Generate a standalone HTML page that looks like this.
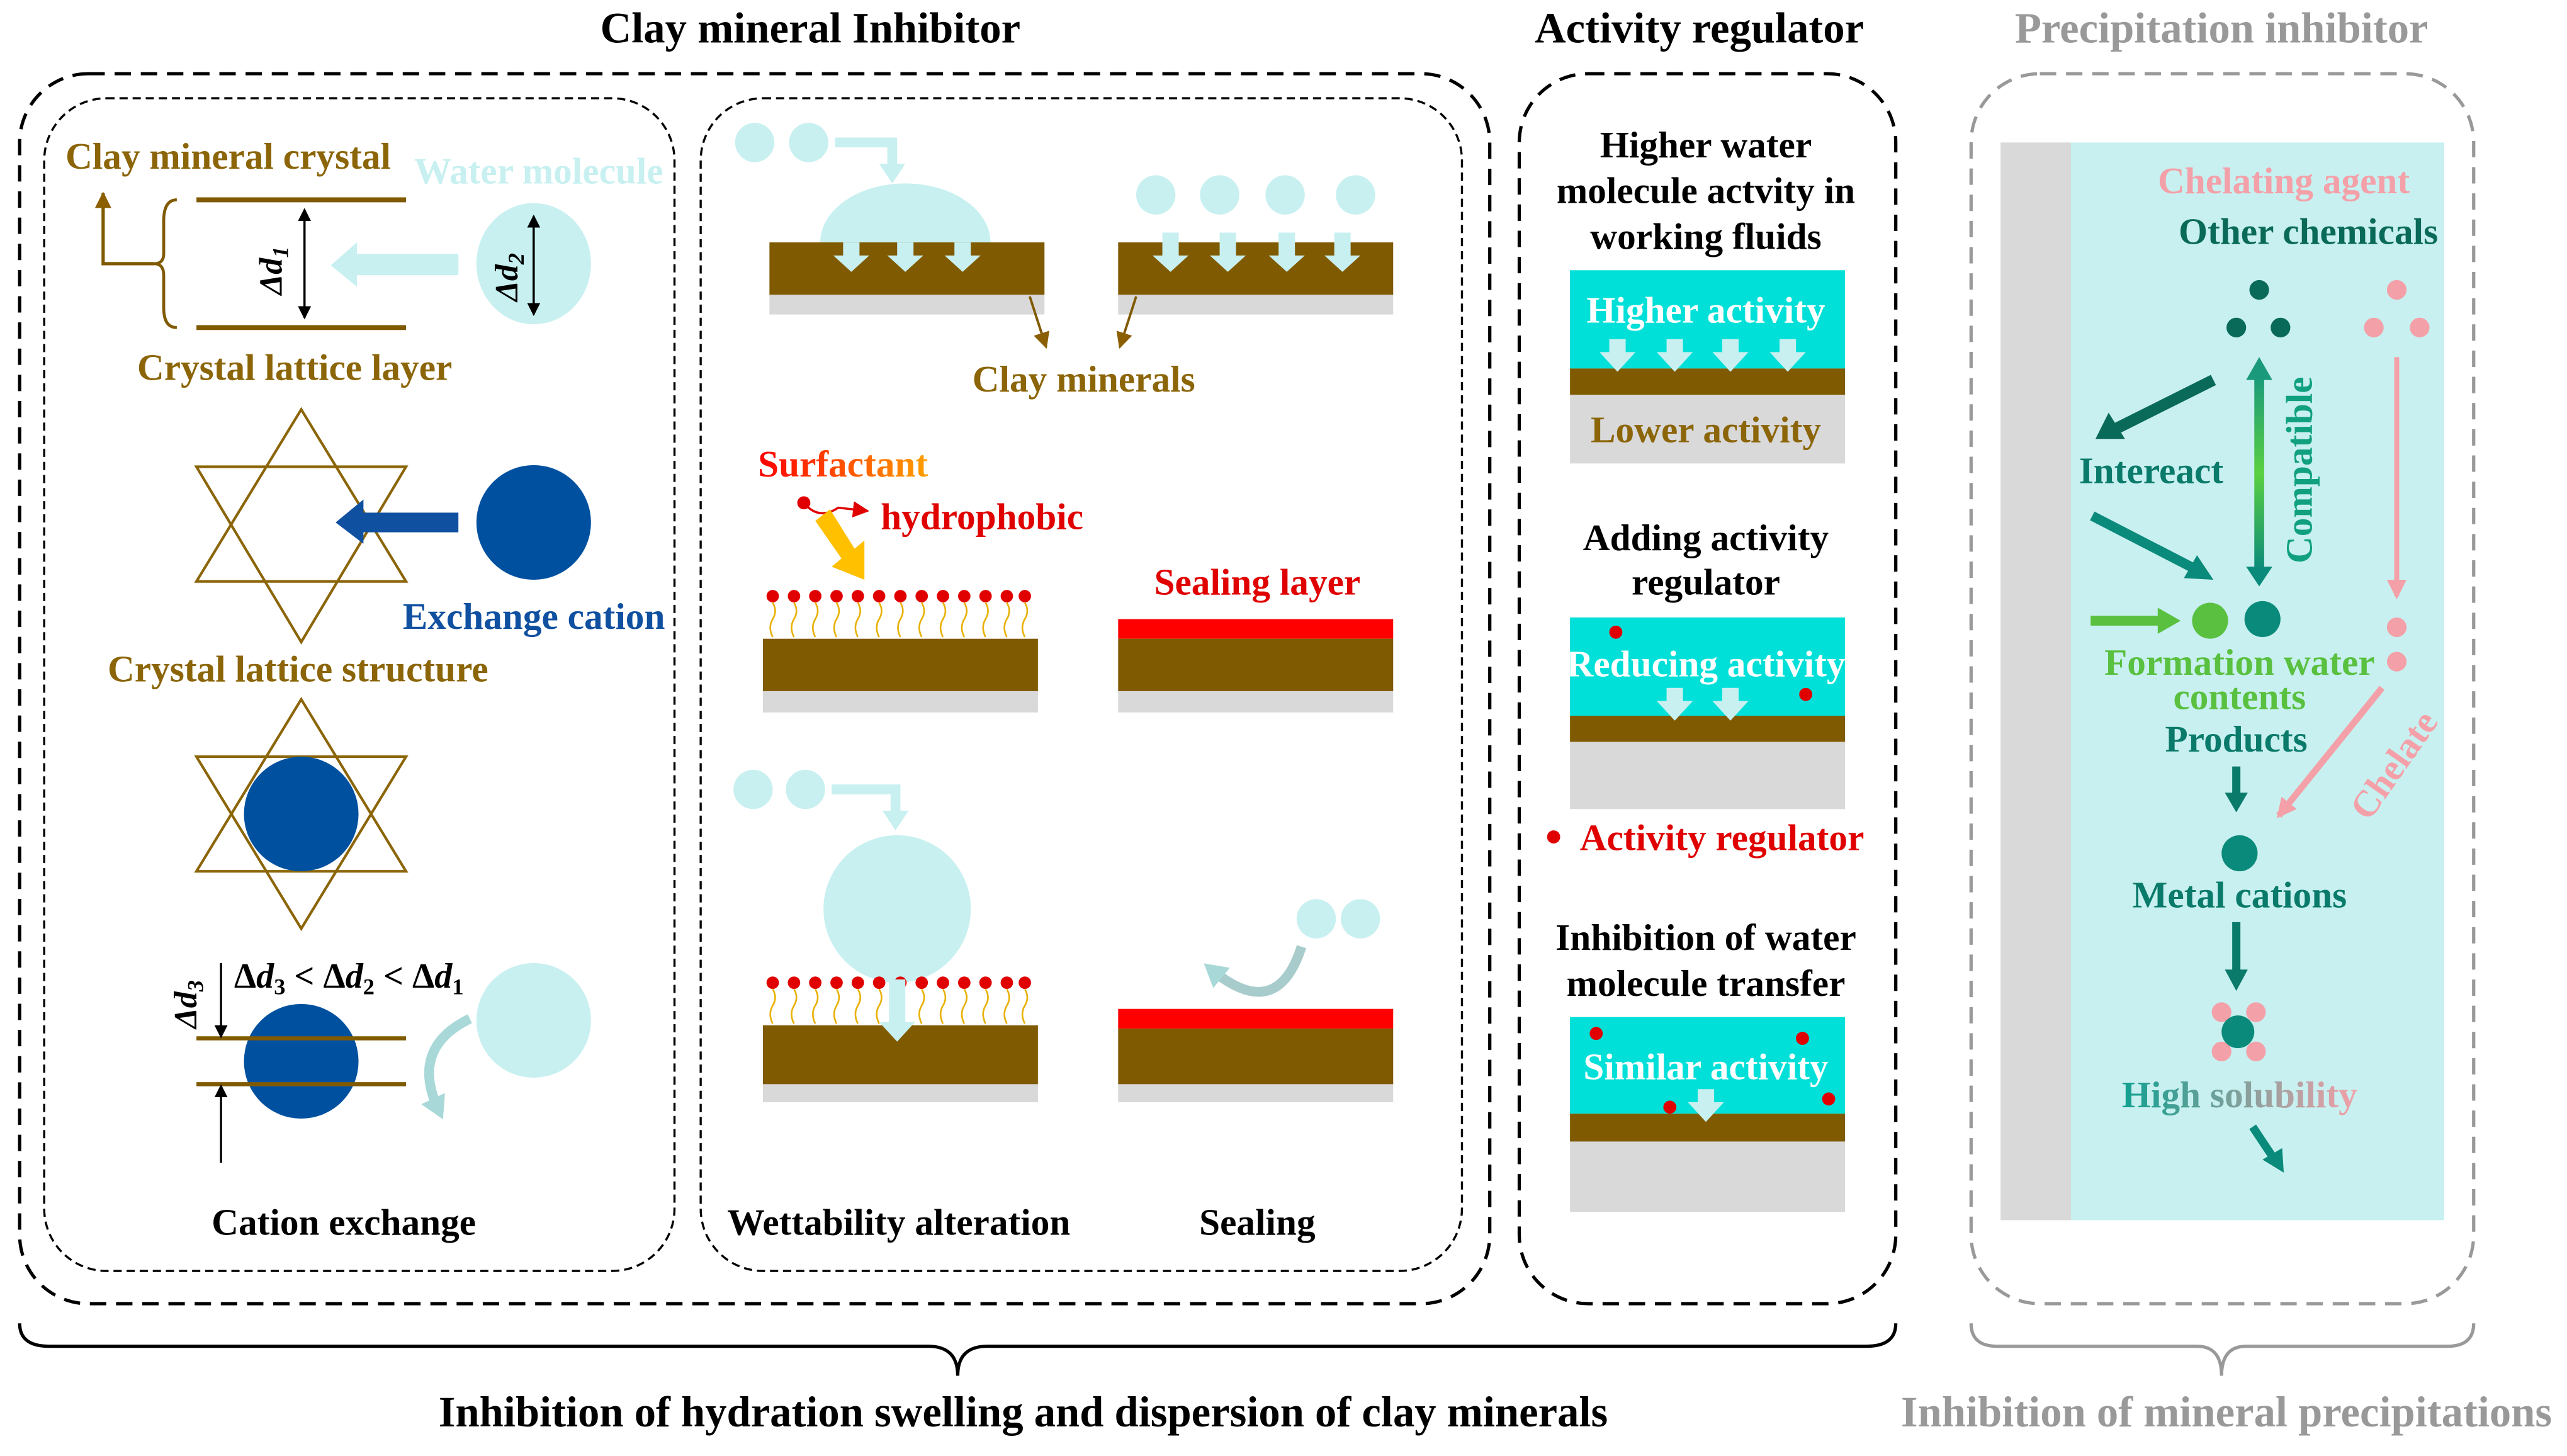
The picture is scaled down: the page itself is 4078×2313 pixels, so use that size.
<!DOCTYPE html>
<html><head><meta charset="utf-8"><style>
html,body{margin:0;padding:0;background:#fff;}
svg{display:block;}
text{font-family:"Liberation Serif",serif;font-weight:bold;}
</style></head><body>
<svg width="4078" height="2313" viewBox="0 0 1568 889" preserveAspectRatio="none" xmlns="http://www.w3.org/2000/svg">
<defs>
<marker id="ab" markerWidth="8" markerHeight="8" refX="7" refY="4" orient="auto" markerUnits="userSpaceOnUse"><path d="M0,0 L8,4 L0,8 z" fill="#000"/></marker>
<marker id="abr" markerWidth="10" markerHeight="10" refX="9" refY="5" orient="auto" markerUnits="userSpaceOnUse"><path d="M0,0 L10,5 L0,10 z" fill="#8b5e00"/></marker>
<marker id="apk" markerWidth="12" markerHeight="12" refX="10" refY="6" orient="auto" markerUnits="userSpaceOnUse"><path d="M0,0 L12,6 L0,12 z" fill="#f4a0a8"/></marker>
<marker id="ar" markerWidth="10" markerHeight="10" refX="9" refY="5" orient="auto" markerUnits="userSpaceOnUse"><path d="M0,0 L10,5 L0,10 z" fill="#e00000"/></marker>
<marker id="acy" markerWidth="16" markerHeight="16" refX="8" refY="8" orient="auto" markerUnits="userSpaceOnUse"><path d="M0,0 L14,8 L0,16 z" fill="#a8d8d8"/></marker>
<linearGradient id="gc" x1="0" y1="0" x2="0" y2="1"><stop offset="0" stop-color="#1a9a7a"/><stop offset="0.5" stop-color="#5ad040"/><stop offset="1" stop-color="#0a8a7a"/></linearGradient>
<linearGradient id="gs" x1="0" y1="0" x2="1" y2="0"><stop offset="0" stop-color="#ff0000"/><stop offset="1" stop-color="#ffa000"/></linearGradient>
<linearGradient id="gh" x1="0" y1="0" x2="1" y2="0"><stop offset="0" stop-color="#10a090"/><stop offset="1" stop-color="#f4a0a8"/></linearGradient>
</defs>

<!-- Titles -->
<text x="495" y="26" font-size="26.4" text-anchor="middle" fill="#000">Clay mineral Inhibitor</text>
<text x="1038" y="26" font-size="26.4" text-anchor="middle" fill="#000">Activity regulator</text>
<text x="1357" y="26" font-size="26.4" text-anchor="middle" fill="#999">Precipitation inhibitor</text>

<!-- Frames -->
<rect x="12" y="45" width="898" height="751" rx="42" fill="none" stroke="#000" stroke-width="2" stroke-dasharray="10,6"/>
<rect x="27" y="60" width="385" height="716" rx="38" fill="none" stroke="#000" stroke-width="1.3" stroke-dasharray="5,3"/>
<rect x="428" y="60" width="465" height="716" rx="38" fill="none" stroke="#000" stroke-width="1.3" stroke-dasharray="5,3"/>
<rect x="928" y="45" width="230" height="751" rx="42" fill="none" stroke="#000" stroke-width="2" stroke-dasharray="10,6"/>
<rect x="1204" y="45" width="307" height="751" rx="42" fill="none" stroke="#999" stroke-width="2" stroke-dasharray="10,6"/>

<!-- Braces -->
<path d="M12,808 Q12,822 30,822 L567,822 Q585,822 585,840 Q585,822 603,822 L1140,822 Q1158,822 1158,808" fill="none" stroke="#000" stroke-width="2"/>
<path d="M1204,808 Q1204,822 1220,822 L1342,822 Q1357,822 1357,840 Q1357,822 1372,822 L1495,822 Q1511,822 1511,808" fill="none" stroke="#999" stroke-width="2"/>
<text x="625" y="871" font-size="26.4" text-anchor="middle" fill="#000">Inhibition of hydration swelling and dispersion of clay minerals</text>
<text x="1360" y="871" font-size="26.4" text-anchor="middle" fill="#999">Inhibition of mineral precipitations</text>

<!-- LEFT PANEL -->
<text x="40" y="103" font-size="22.8" fill="#8b6508">Clay mineral crystal</text>
<text x="253" y="112" font-size="22.8" fill="#c8f0f0">Water molecule</text>
<line x1="120" y1="122" x2="248" y2="122" stroke="#805a00" stroke-width="3"/>
<line x1="120" y1="200" x2="248" y2="200" stroke="#805a00" stroke-width="3"/>
<line x1="186" y1="128" x2="186" y2="194" stroke="#000" stroke-width="1.3" marker-end="url(#ab)"/>
<line x1="186" y1="194" x2="186" y2="128" stroke="#000" stroke-width="1.3" marker-end="url(#ab)"/>
<text transform="translate(172,180) rotate(-90)" font-size="20" font-style="italic" fill="#000">Δd<tspan font-size="14" dy="4">1</tspan></text>
<path d="M108,122 Q100,122 100,135 L100,155 Q100,161 94,161 Q100,161 100,168 L100,188 Q100,200 108,200" fill="none" stroke="#805a00" stroke-width="1.8"/>
<polyline points="94,161 63,161 63,118" fill="none" stroke="#805a00" stroke-width="2" marker-end="url(#abr)"/>
<path d="M280,155 L218,155 L218,148 L202,162 L218,175 L218,168 L280,168 z" fill="#c8f0f0"/>
<ellipse cx="326" cy="161" rx="35" ry="37" fill="#c8f0f0"/>
<line x1="326" y1="132" x2="326" y2="192" stroke="#000" stroke-width="1.3" marker-end="url(#ab)"/>
<line x1="326" y1="192" x2="326" y2="132" stroke="#000" stroke-width="1.3" marker-end="url(#ab)"/>
<text transform="translate(316,184) rotate(-90)" font-size="20" font-style="italic" fill="#000">Δd<tspan font-size="14" dy="4">2</tspan></text>
<text x="180" y="232" font-size="22.8" text-anchor="middle" fill="#8b6508">Crystal lattice layer</text>

<g fill="none" stroke="#8b6508" stroke-width="1.6">
<polygon points="184,250 120,355 248,355"/><polygon points="184,392 120,285 248,285"/>
<polygon points="184,427 120,532 248,532"/><polygon points="184,567 120,462 248,462"/>
</g>
<path d="M280,313 L222,313 L222,305 L205,319 L222,332 L222,325 L280,325 z" fill="#1050a0"/>
<circle cx="326" cy="319" r="35" fill="#0050a0"/>
<text x="246" y="384" font-size="22.8" fill="#1050a0">Exchange cation</text>
<text x="182" y="416" font-size="22.8" text-anchor="middle" fill="#8b6508">Crystal lattice structure</text>
<circle cx="184" cy="497" r="35" fill="#0050a0"/>

<text x="143" y="603" font-size="21.6" fill="#000">Δ<tspan font-style="italic">d</tspan><tspan font-size="14" dy="4">3</tspan><tspan dy="-4"> &lt; Δ</tspan><tspan font-style="italic">d</tspan><tspan font-size="14" dy="4">2</tspan><tspan dy="-4"> &lt; Δ</tspan><tspan font-style="italic">d</tspan><tspan font-size="14" dy="4">1</tspan></text>
<circle cx="184" cy="648" r="35" fill="#0050a0"/>
<line x1="120" y1="634" x2="248" y2="634" stroke="#805a00" stroke-width="2.5"/>
<line x1="120" y1="662" x2="248" y2="662" stroke="#805a00" stroke-width="2.5"/>
<line x1="135" y1="588" x2="135" y2="633" stroke="#000" stroke-width="1.3" marker-end="url(#ab)"/>
<line x1="135" y1="710" x2="135" y2="663" stroke="#000" stroke-width="1.3" marker-end="url(#ab)"/>
<text transform="translate(120,628) rotate(-90)" font-size="20" font-style="italic" fill="#000">Δd<tspan font-size="14" dy="4">3</tspan></text>
<circle cx="326" cy="623" r="35" fill="#c8f0f0"/>
<path d="M287,622 Q250,640 268,678" fill="none" stroke="#a8d8d8" stroke-width="6" marker-end="url(#acy)"/>
<text x="210" y="754" font-size="22.8" text-anchor="middle" fill="#000">Cation exchange</text>

<!-- MIDDLE PANEL -->
<circle cx="461" cy="87" r="12" fill="#c8f0f0"/><circle cx="494" cy="87" r="12" fill="#c8f0f0"/>
<polyline points="510,87 545,87 545,104" fill="none" stroke="#c8f0f0" stroke-width="6"/>
<path d="M537,100 L553,100 L545,112 z" fill="#c8f0f0"/>
<path d="M501,148 A52,36 0 0 1 605,148 z" fill="#c8f0f0"/>
<rect x="470" y="148" width="168" height="32" fill="#805a00"/><rect x="470" y="180" width="168" height="12" fill="#d9d9d9"/>
<g fill="#c8f0f0">
<path d="M515,148 h10 v8 h6 l-11,10 l-11,-10 h6z"/><path d="M548,148 h10 v8 h6 l-11,10 l-11,-10 h6z"/><path d="M583,148 h10 v8 h6 l-11,10 l-11,-10 h6z"/>
<circle cx="706" cy="119" r="12"/><circle cx="745" cy="119" r="12"/><circle cx="785" cy="119" r="12"/><circle cx="828" cy="119" r="12"/>
</g>
<rect x="683" y="148" width="168" height="32" fill="#805a00"/><rect x="683" y="180" width="168" height="12" fill="#d9d9d9"/>
<g fill="#c8f0f0">
<path d="M710,142 h10 v14 h6 l-11,10 l-11,-10 h6z"/><path d="M745,142 h10 v14 h6 l-11,10 l-11,-10 h6z"/><path d="M781,142 h10 v14 h6 l-11,10 l-11,-10 h6z"/><path d="M815,142 h10 v14 h6 l-11,10 l-11,-10 h6z"/>
</g>
<line x1="629" y1="181" x2="639" y2="212" stroke="#805a00" stroke-width="1.5" marker-end="url(#abr)"/>
<line x1="694" y1="181" x2="684" y2="212" stroke="#805a00" stroke-width="1.5" marker-end="url(#abr)"/>
<text x="662" y="239" font-size="22.8" text-anchor="middle" fill="#8b6508">Clay minerals</text>

<text x="463" y="291" font-size="22.8" fill="url(#gs)">Surfactant</text>
<circle cx="491" cy="307" r="4" fill="#e00000"/>
<path d="M491,307 Q500,318 512,310 L530,312" fill="none" stroke="#e00000" stroke-width="1.3" marker-end="url(#ar)"/>
<text x="538" y="323" font-size="22.8" fill="#e00000">hydrophobic</text>
<path d="M498,318 L507,311 L522,335 L528,330 L528,354 L508,346 L514,341 z" fill="#ffc000"/>

<g id="surf">
<g fill="#e00000">
<circle cx="472" cy="364" r="3.8"/><circle cx="485" cy="364" r="3.8"/><circle cx="498" cy="364" r="3.8"/><circle cx="511" cy="364" r="3.8"/><circle cx="524" cy="364" r="3.8"/><circle cx="537" cy="364" r="3.8"/><circle cx="550" cy="364" r="3.8"/><circle cx="563" cy="364" r="3.8"/><circle cx="576" cy="364" r="3.8"/><circle cx="589" cy="364" r="3.8"/><circle cx="602" cy="364" r="3.8"/><circle cx="615" cy="364" r="3.8"/><circle cx="626" cy="364" r="3.8"/>
</g>
<g fill="none" stroke="#e8b000" stroke-width="1">
<path d="M472,368 q3,5 0,10 q-3,5 0,11"/><path d="M485,368 q3,5 0,10 q-3,5 0,11"/><path d="M498,368 q3,5 0,10 q-3,5 0,11"/><path d="M511,368 q3,5 0,10 q-3,5 0,11"/><path d="M524,368 q3,5 0,10 q-3,5 0,11"/><path d="M537,368 q3,5 0,10 q-3,5 0,11"/><path d="M550,368 q3,5 0,10 q-3,5 0,11"/><path d="M563,368 q3,5 0,10 q-3,5 0,11"/><path d="M576,368 q3,5 0,10 q-3,5 0,11"/><path d="M589,368 q3,5 0,10 q-3,5 0,11"/><path d="M602,368 q3,5 0,10 q-3,5 0,11"/><path d="M615,368 q3,5 0,10 q-3,5 0,11"/><path d="M626,368 q3,5 0,10 q-3,5 0,11"/>
</g>
</g>
<rect x="466" y="390" width="168" height="32" fill="#805a00"/><rect x="466" y="422" width="168" height="13" fill="#d9d9d9"/>

<text x="768" y="363" font-size="22.8" text-anchor="middle" fill="#e00000">Sealing layer</text>
<rect x="683" y="378" width="168" height="12" fill="#ff0000"/><rect x="683" y="390" width="168" height="32" fill="#805a00"/><rect x="683" y="422" width="168" height="13" fill="#d9d9d9"/>

<circle cx="460" cy="482" r="12" fill="#c8f0f0"/><circle cx="492" cy="482" r="12" fill="#c8f0f0"/>
<polyline points="508,482 547,482 547,498" fill="none" stroke="#c8f0f0" stroke-width="6"/>
<path d="M539,495 L555,495 L547,507 z" fill="#c8f0f0"/>
<circle cx="548" cy="555" r="45" fill="#c8f0f0"/>
<use href="#surf" transform="translate(0,236)"/>
<rect x="466" y="626" width="168" height="36" fill="#805a00"/><rect x="466" y="662" width="168" height="11" fill="#d9d9d9"/>
<path d="M543,598 h10 v26 h6 l-11,12 l-11,-12 h6z" fill="#c8f0f0"/>

<circle cx="804" cy="561" r="12" fill="#c8f0f0"/><circle cx="831" cy="561" r="12" fill="#c8f0f0"/>
<path d="M795,578 Q780,625 740,592" fill="none" stroke="#a8cccc" stroke-width="6" marker-end="url(#acy)"/>
<rect x="683" y="616" width="168" height="12" fill="#ff0000"/><rect x="683" y="628" width="168" height="34" fill="#805a00"/><rect x="683" y="662" width="168" height="11" fill="#d9d9d9"/>
<text x="549" y="754" font-size="22.8" text-anchor="middle" fill="#000">Wettability alteration</text>
<text x="768" y="754" font-size="22.8" text-anchor="middle" fill="#000">Sealing</text>

<!-- ACTIVITY PANEL -->
<g font-size="22.8" text-anchor="middle" fill="#000">
<text x="1042" y="96">Higher water</text><text x="1042" y="124">molecule actvity in</text><text x="1042" y="152">working fluids</text>
<text x="1042" y="336">Adding activity</text><text x="1042" y="363">regulator</text>
<text x="1042" y="580">Inhibition of water</text><text x="1042" y="608">molecule transfer</text>
</g>
<rect x="959" y="165" width="168" height="60" fill="#00e0d8"/><rect x="959" y="225" width="168" height="16" fill="#805a00"/><rect x="959" y="241" width="168" height="42" fill="#d9d9d9"/>
<text x="1042" y="197" font-size="22.8" text-anchor="middle" fill="#fff">Higher activity</text>
<g fill="#c8f0f0">
<path d="M983,207 h10 v8 h6 l-11,12 l-11,-12 h6z"/><path d="M1018,207 h10 v8 h6 l-11,12 l-11,-12 h6z"/><path d="M1052,207 h10 v8 h6 l-11,12 l-11,-12 h6z"/><path d="M1087,207 h10 v8 h6 l-11,12 l-11,-12 h6z"/>
</g>
<text x="1042" y="270" font-size="22.8" text-anchor="middle" fill="#8b6508">Lower activity</text>

<rect x="959" y="377" width="168" height="60" fill="#00e0d8"/><rect x="959" y="437" width="168" height="16" fill="#805a00"/><rect x="959" y="453" width="168" height="41" fill="#d9d9d9"/>
<text x="1042" y="413" font-size="22.8" text-anchor="middle" fill="#fff">Reducing activity</text>
<circle cx="987" cy="386" r="4" fill="#e00000"/><circle cx="1103" cy="424" r="4" fill="#e00000"/>
<g fill="#c8f0f0"><path d="M1018,420 h10 v8 h6 l-11,12 l-11,-12 h6z"/><path d="M1052,420 h10 v8 h6 l-11,12 l-11,-12 h6z"/></g>
<circle cx="949" cy="511" r="4" fill="#e00000"/>
<text x="965" y="519" font-size="22.8" fill="#e00000">Activity regulator</text>

<rect x="959" y="621" width="168" height="59" fill="#00e0d8"/><rect x="959" y="680" width="168" height="17" fill="#805a00"/><rect x="959" y="697" width="168" height="43" fill="#d9d9d9"/>
<text x="1042" y="659" font-size="22.8" text-anchor="middle" fill="#fff">Similar activity</text>
<circle cx="975" cy="631" r="4" fill="#e00000"/><circle cx="1101" cy="634" r="4" fill="#e00000"/><circle cx="1117" cy="671" r="4" fill="#e00000"/><circle cx="1020" cy="676" r="4" fill="#e00000"/>
<path d="M1037,665 h10 v8 h6 l-11,12 l-11,-12 h6z" fill="#c8f0f0"/>

<!-- PRECIPITATION PANEL -->
<rect x="1222" y="87" width="43" height="658" fill="#d9d9d9"/>
<rect x="1265" y="87" width="228" height="658" fill="#c8f0f0"/>
<text x="1395" y="118" font-size="22.8" text-anchor="middle" fill="#f4a0a8">Chelating agent</text>
<text x="1410" y="149" font-size="22.8" text-anchor="middle" fill="#0a6a5a">Other chemicals</text>
<g fill="#0a6a5a"><circle cx="1380" cy="177" r="6"/><circle cx="1366" cy="200" r="6"/><circle cx="1393" cy="200" r="6"/></g>
<g fill="#f4a0a8"><circle cx="1464" cy="177" r="6"/><circle cx="1450" cy="200" r="6"/><circle cx="1478" cy="200" r="6"/></g>
<path d="M1352,232 L1292,262" stroke="#0a6a5a" stroke-width="7"/><path d="M1280,268 L1288,252 L1298,268 z" fill="#0a6a5a"/>
<text x="1314" y="295" font-size="22.8" text-anchor="middle" fill="#0a7a6a">Intereact</text>
<rect x="1377" y="230" width="6" height="118" fill="url(#gc)"/>
<path d="M1372,232 L1380,218 L1388,232 z" fill="#1a9a7a"/><path d="M1372,346 L1380,358 L1388,346 z" fill="#0a8a7a"/>
<text transform="translate(1412,344) rotate(-90)" font-size="22.8" fill="#10a080">Compatible</text>
<line x1="1464" y1="218" x2="1464" y2="364" stroke="#f4a0a8" stroke-width="3" marker-end="url(#apk)"/>
<path d="M1278,315 L1342,348" stroke="#0a8a7a" stroke-width="6"/><path d="M1352,354 L1334,353 L1342,339 z" fill="#0a8a7a"/>
<path d="M1277,379 L1320,379" stroke="#5ac040" stroke-width="6"/><path d="M1318,371 L1332,379 L1318,387 z" fill="#5ac040"/>
<circle cx="1350" cy="379" r="11" fill="#5ac040"/><circle cx="1382" cy="378" r="11" fill="#0a8a7a"/>
<circle cx="1464" cy="383" r="6" fill="#f4a0a8"/><circle cx="1464" cy="404" r="6" fill="#f4a0a8"/>
<text x="1368" y="412" font-size="22.8" text-anchor="middle" fill="#5ac040">Formation water</text>
<text x="1368" y="433" font-size="22.8" text-anchor="middle" fill="#5ac040">contents</text>
<text x="1366" y="459" font-size="22.8" text-anchor="middle" fill="#0a7a6a">Products</text>
<line x1="1455" y1="420" x2="1392" y2="498" stroke="#f4a0a8" stroke-width="4" marker-end="url(#apk)"/>
<text transform="translate(1447,502) rotate(-55)" font-size="22.8" fill="#f4a0a8">Chelate</text>
<path d="M1366,468 L1366,486" stroke="#0a7a6a" stroke-width="5"/><path d="M1359,484 L1373,484 L1366,496 z" fill="#0a7a6a"/>
<circle cx="1368" cy="521" r="11" fill="#0a8a7a"/>
<text x="1368" y="554" font-size="22.8" text-anchor="middle" fill="#0a7a6a">Metal cations</text>
<path d="M1366,563 L1366,594" stroke="#0a7a6a" stroke-width="5"/><path d="M1359,592 L1373,592 L1366,605 z" fill="#0a7a6a"/>
<g fill="#f4a0a8"><circle cx="1357" cy="618" r="6"/><circle cx="1378" cy="618" r="6"/><circle cx="1357" cy="642" r="6"/><circle cx="1378" cy="642" r="6"/></g>
<circle cx="1367" cy="630" r="10" fill="#0a8a7a"/>
<text x="1368" y="676" font-size="22.8" text-anchor="middle" fill="url(#gh)">High solubility</text>
<path d="M1376,688 L1388,706" stroke="#0a8a7a" stroke-width="5"/><path d="M1382,708 L1394,701 L1395,716 z" fill="#0a8a7a"/>
</svg>
</body></html>
